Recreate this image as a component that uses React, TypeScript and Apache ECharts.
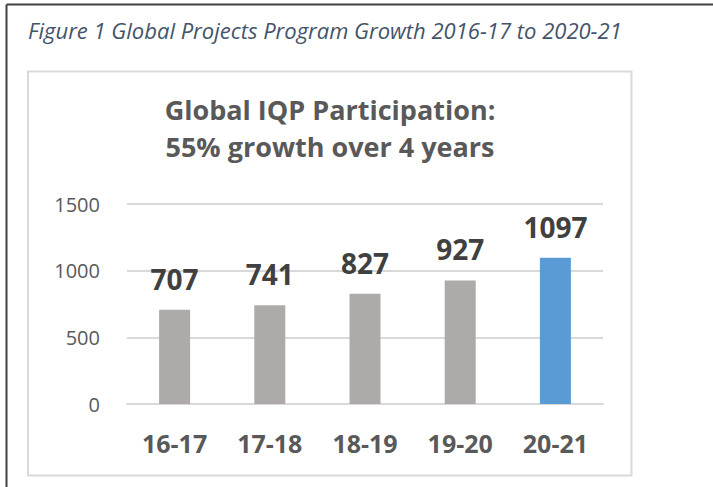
import React, { useEffect, useRef } from "react";
import * as echarts from "echarts";

const categories = ["16-17", "17-18", "18-19", "19-20", "20-21"];
const participants = [707, 741, 827, 927, 1097];
const barColors = ["#AEAAAA", "#AEAAAA", "#AEAAAA", "#AEAAAA", "#5B9BD5"];
const yTicks = { min: 0, max: 1500, interval: 500 };
const captionText = "Figure 1 Global Projects Program Growth 2016-17 to 2020-21";
const titleLines = ["Global IQP Participation:", "55% growth over 4 years"];

const FONT = "'Open Sans', 'Noto Sans', sans-serif";

export default function App() {
  const ref = useRef<HTMLDivElement>(null);
  useEffect(() => {
    if (!ref.current) return;
    const chart = echarts.init(ref.current, undefined, { renderer: "svg" });
    chart.setOption({
      animation: false,
      backgroundColor: "#ffffff",
      textStyle: { fontFamily: FONT },
      grid: { left: 127, right: 110, top: 204, bottom: 83, containLabel: false },
      xAxis: {
        type: "category",
        data: categories,
        axisLine: { show: true, lineStyle: { color: "#D9D9D9", width: 2 } },
        axisTick: { show: false },
        axisLabel: {
          margin: 26,
          color: "#595959",
          fontFamily: FONT,
          fontWeight: "bold",
          fontSize: 25,
        },
      },
      yAxis: {
        type: "value",
        min: yTicks.min,
        max: yTicks.max,
        interval: yTicks.interval,
        axisLine: { show: false },
        axisTick: { show: false },
        splitLine: { lineStyle: { color: "#D9D9D9", width: 2 } },
        axisLabel: {
          margin: 27,
          color: "#595959",
          fontFamily: FONT,
          fontSize: 20,
          formatter: (v: number) => String(v),
        },
      },
      series: [
        {
          type: "bar",
          barWidth: 31,
          data: participants.map((v, i) => ({ value: v, itemStyle: { color: barColors[i] } })),
          label: {
            show: true,
            position: "top",
            distance: 17,
            color: "#404040",
            fontFamily: FONT,
            fontWeight: "bold",
            fontSize: 28,
          },
        },
      ],
      graphic: [
        {
          type: "line",
          shape: { x1: 6.5, y1: 4.5, x2: 713, y2: 4.5 },
          style: { stroke: "#404040", lineWidth: 2 },
          silent: true,
        },
        {
          type: "line",
          shape: { x1: 6.5, y1: 4.5, x2: 6.5, y2: 487 },
          style: { stroke: "#404040", lineWidth: 2 },
          silent: true,
        },
        {
          type: "rect",
          shape: { x: 28, y: 71.5, width: 603.5, height: 404 },
          style: { fill: "none", stroke: "#D9D9D9", lineWidth: 2 },
          silent: true,
          z: -1,
        },
        {
          type: "text",
          x: 28,
          y: 30,
          style: {
            text: captionText,
            fill: "#44546A",
            font: `italic 22px ${FONT}`,
            textVerticalAlign: "middle",
          },
        },
        {
          type: "text",
          x: 330,
          y: 109,
          style: {
            text: titleLines[0],
            fill: "#595959",
            font: `bold 27px ${FONT}`,
            textAlign: "center",
            textVerticalAlign: "middle",
          },
        },
        {
          type: "text",
          x: 330,
          y: 146,
          style: {
            text: titleLines[1],
            fill: "#595959",
            font: `bold 27px ${FONT}`,
            textAlign: "center",
            textVerticalAlign: "middle",
          },
        },
      ],
    });
    return () => chart.dispose();
  }, []);
  return (
    <div
      ref={ref}
      style={{ position: "absolute", left: 0, top: 0, width: 713, height: 487 }}
    />
  );
}
